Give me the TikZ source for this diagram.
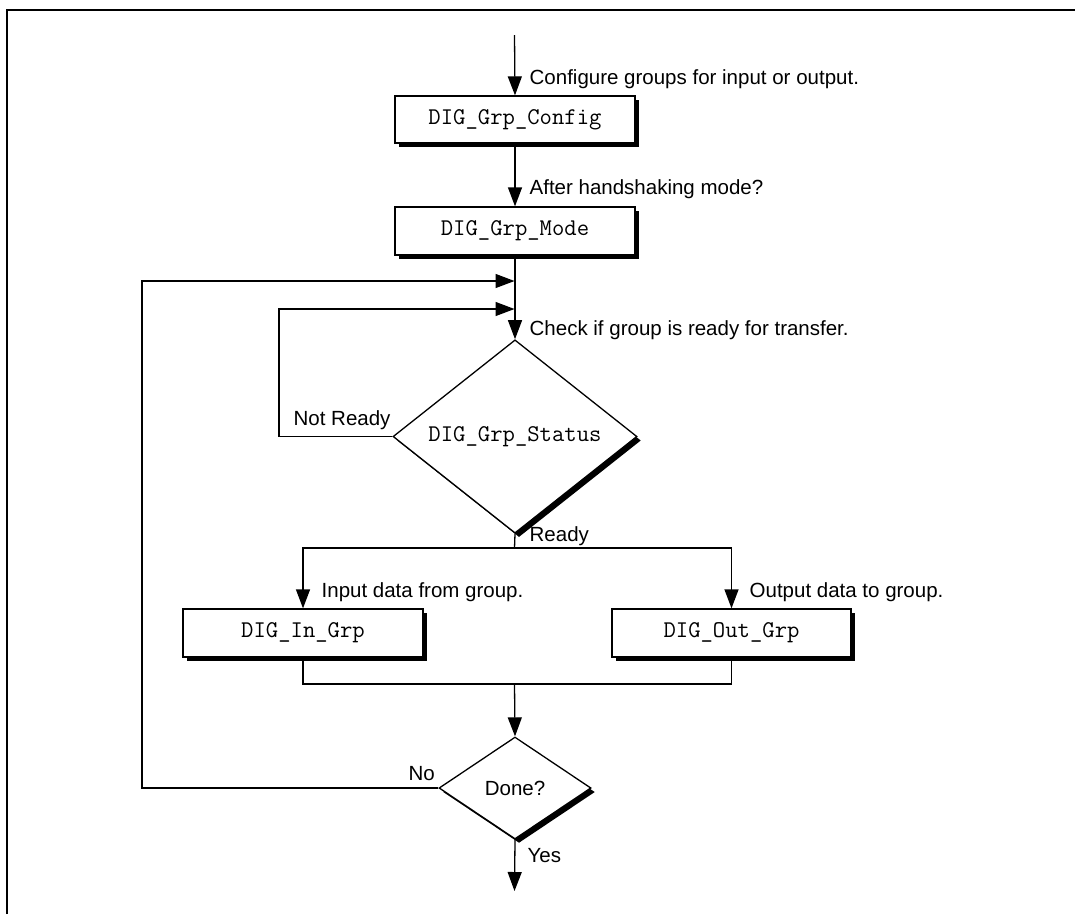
\documentclass[tikz,border=0pt]{standalone}
\usepackage{fontspec}
\setmainfont{Liberation Sans}
\usetikzlibrary{shapes.geometric,arrows.meta,shadows}
\begin{document}
\begin{tikzpicture}[x=1pt,y=-1pt,
  line width=1.3pt,
  tip/.style={-{Triangle[length=19pt,width=14pt]}},
  mono/.style={font=\fontsize{24}{24}\selectfont\ttfamily},
  proc/.style={draw, fill=white, rectangle, inner sep=0pt,
    minimum width=240pt, minimum height=48pt, mono,
    general shadow={fill=black, shadow xshift=4pt, shadow yshift=-4pt}},
  dec/.style={draw, fill=white, diamond, inner sep=0pt,
    general shadow={fill=black, shadow xshift=4pt, shadow yshift=-4pt}},
  lbl/.style={anchor=base west, inner sep=0pt, font=\fontsize{20.5}{24}\selectfont}
]
\useasboundingbox (0,0) rectangle (1075,914);
% frame
\draw[line width=2.4pt] (7,914) -- (7,10) -- (1075,10);

% nodes
\node[proc, minimum height=47pt] (config) at (515,119.5) {DIG\_Grp\_Config};
\node[proc] (mode) at (515,231) {DIG\_Grp\_Mode};
\node[dec, minimum width=244pt, minimum height=163pt, mono] (status) at (515,436.5) {DIG\_Grp\_Status};
\node[proc] (in) at (303,633) {DIG\_In\_Grp};
\node[proc, minimum width=239pt] (out) at (731.5,633) {DIG\_Out\_Grp};
\node[dec, minimum width=152pt, minimum height=102pt,
      font=\fontsize{20.5}{24}\selectfont] (done) at (515,788) {Done?};

% coordinates
\coordinate (start) at (514.5,35);
\coordinate (j1) at (514.5,281);
\coordinate (j2) at (514.5,309);
\coordinate (split) at (514.5,548);
\coordinate (merge) at (514.5,684);
\coordinate (nrc) at (279,436.5);
\coordinate (noc) at (142,788);
\coordinate (stop) at (514.5,891);

% connectors
\draw[tip] (start) -- (config.north);
\draw[tip] (config.south) -- (mode.north);
\draw[tip] (mode.south) -- (status.north);
\draw[tip] (status.west) -- (nrc) |- (j2);
\draw[tip] (done.west) -- (noc) |- (j1);
\draw (status.south) -- (split);
\draw[tip] (split) -| (in.north);
\draw[tip] (split) -| (out.north);
\draw (in.south) |- (merge);
\draw (out.south) |- (merge);
\draw[tip] (merge) -- (done.north);
\draw[tip] (done.south) -- (stop);

% labels
\node[lbl] (t1) at (529,84) {Configure groups for input or output.};
\node[lbl] (t2) at (529,194) {After handshaking mode?};
\node[lbl] (t3) at (529,335) {Check if group is ready for transfer.};
\node[lbl] (t4) at (293,425) {Not Ready};
\node[lbl] (t5) at (529,541) {Ready};
\node[lbl] (t6) at (321,597) {Input data from group.};
\node[lbl] (t7) at (749,597) {Output data to group.};
\node[lbl] (t8) at (408,780) {No};
\node[lbl] (t9) at (527,862) {Yes};
\end{tikzpicture}
\end{document}
